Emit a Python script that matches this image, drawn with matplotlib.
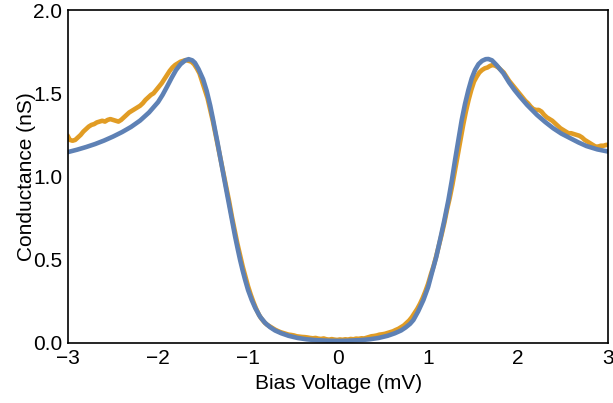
import matplotlib
matplotlib.use('Agg')
import matplotlib.pyplot as plt

# fitted curve (blue)
fit_v = [-3.0, -2.9, -2.8, -2.7, -2.6, -2.5, -2.4, -2.3, -2.2, -2.1, -2.0, -1.95,
         -1.9, -1.85, -1.8, -1.75, -1.7, -1.66, -1.62, -1.59, -1.55, -1.5, -1.46,
         -1.42, -1.39, -1.367, -1.34, -1.311, -1.28, -1.256, -1.228, -1.2, -1.172,
         -1.144, -1.115, -1.089, -1.06, -1.033, -1.0, -0.959, -0.92, -0.867, -0.81,
         -0.756, -0.7, -0.63, -0.55, -0.45, -0.35, -0.25, -0.1, 0.0,
         0.1, 0.25, 0.35, 0.45, 0.55, 0.63, 0.7, 0.75, 0.8, 0.837, 0.89, 0.948, 1.0,
         1.041, 1.09, 1.133, 1.18, 1.226, 1.265, 1.3, 1.34, 1.374, 1.41, 1.448, 1.485,
         1.522, 1.56, 1.6, 1.64, 1.67, 1.71, 1.76, 1.837, 1.9, 1.96, 2.02, 2.1, 2.21,
         2.3, 2.39, 2.48, 2.58, 2.67, 2.76, 2.88, 3.0]
fit_g = [1.147, 1.161, 1.177, 1.195, 1.216, 1.240, 1.267, 1.298, 1.336, 1.385, 1.447, 1.49,
         1.54, 1.592, 1.64, 1.675, 1.697, 1.705, 1.698, 1.683, 1.645, 1.585, 1.515,
         1.425, 1.345, 1.28, 1.205, 1.12, 1.03, 0.96, 0.88, 0.80, 0.72,
         0.64, 0.565, 0.50, 0.435, 0.38, 0.318, 0.258, 0.21, 0.158, 0.12,
         0.095, 0.075, 0.058, 0.043, 0.030, 0.022, 0.017, 0.013, 0.012,
         0.013, 0.017, 0.022, 0.030, 0.043, 0.058, 0.075, 0.093, 0.115, 0.138, 0.19, 0.258, 0.335,
         0.418, 0.515, 0.619, 0.735, 0.859, 0.98, 1.10, 1.23, 1.34, 1.435, 1.52, 1.59,
         1.64, 1.675, 1.695, 1.705, 1.706, 1.698, 1.67, 1.62, 1.565, 1.52, 1.48, 1.43, 1.37,
         1.328, 1.29, 1.258, 1.23, 1.205, 1.183, 1.163, 1.15]

# measured data (orange)
meas_v = [-3.00, -2.98, -2.95, -2.92, -2.89, -2.86, -2.83, -2.80, -2.77, -2.74, -2.71,
          -2.68, -2.65, -2.62, -2.59, -2.56, -2.53, -2.50, -2.47, -2.44, -2.41, -2.38,
          -2.35, -2.32, -2.29, -2.26, -2.23, -2.20, -2.17, -2.14, -2.11, -2.08, -2.05,
          -2.02, -1.99, -1.96, -1.93, -1.90, -1.87, -1.84, -1.81, -1.78, -1.75, -1.72,
          -1.69, -1.66, -1.63, -1.60, -1.57, -1.54, -1.51, -1.48, -1.45, -1.42, -1.39,
          -1.36, -1.33, -1.30, -1.27, -1.24, -1.21, -1.18, -1.15, -1.12, -1.09, -1.06,
          -1.03, -1.00, -0.97, -0.94, -0.91, -0.88, -0.85, -0.82, -0.79, -0.76, -0.73,
          -0.70, -0.67, -0.64, -0.61, -0.58, -0.55, -0.52, -0.49, -0.46, -0.43, -0.40,
          -0.37, -0.34, -0.31, -0.28, -0.25, -0.22, -0.19, -0.16, -0.13, -0.10, -0.07,
          -0.04, -0.01, 0.02, 0.05, 0.08, 0.11, 0.14, 0.17, 0.20, 0.23, 0.26, 0.29,
          0.31, 0.34, 0.37, 0.40, 0.43, 0.46, 0.49, 0.52, 0.55, 0.58, 0.61, 0.64, 0.67,
          0.70, 0.73, 0.76, 0.79, 0.82, 0.85, 0.88, 0.91, 0.94, 0.97, 1.00, 1.03, 1.06,
          1.09, 1.12, 1.15, 1.18, 1.21, 1.24, 1.27, 1.30, 1.33, 1.36, 1.39, 1.42, 1.45,
          1.48, 1.51, 1.54, 1.57, 1.60, 1.63, 1.66, 1.69, 1.72, 1.75, 1.78, 1.81, 1.84,
          1.87, 1.90, 1.93, 1.96, 1.99, 2.02, 2.05, 2.08, 2.11, 2.14, 2.17, 2.20, 2.23,
          2.26, 2.29, 2.32, 2.35, 2.38, 2.41, 2.44, 2.47, 2.50, 2.53, 2.56, 2.59, 2.62,
          2.65, 2.68, 2.71, 2.74, 2.77, 2.80, 2.83, 2.86, 2.89, 2.92, 2.95, 2.98, 3.00]
meas_g = [1.24, 1.22, 1.215, 1.22, 1.235, 1.25, 1.27, 1.285, 1.30, 1.31, 1.315,
          1.325, 1.33, 1.335, 1.33, 1.34, 1.345, 1.34, 1.335, 1.33, 1.34, 1.355,
          1.37, 1.385, 1.395, 1.405, 1.415, 1.425, 1.44, 1.46, 1.475, 1.49, 1.50,
          1.52, 1.54, 1.56, 1.585, 1.61, 1.635, 1.655, 1.67, 1.68, 1.69, 1.695,
          1.70, 1.695, 1.69, 1.675, 1.65, 1.62, 1.57, 1.52, 1.47, 1.40, 1.33,
          1.25, 1.17, 1.09, 1.01, 0.93, 0.85, 0.76, 0.68, 0.60, 0.53, 0.46,
          0.40, 0.34, 0.29, 0.245, 0.205, 0.17, 0.145, 0.125, 0.11, 0.10, 0.09,
          0.08, 0.072, 0.065, 0.06, 0.055, 0.05, 0.048, 0.045, 0.04, 0.038, 0.036,
          0.035, 0.033, 0.03, 0.028, 0.03, 0.026, 0.024, 0.027, 0.022, 0.02, 0.023,
          0.02, 0.018, 0.021, 0.019, 0.022, 0.02, 0.024, 0.022, 0.026, 0.025, 0.028, 0.027,
          0.03, 0.035, 0.04, 0.042, 0.045, 0.05, 0.052, 0.055, 0.06, 0.065, 0.07, 0.078, 0.085,
          0.095, 0.105, 0.12, 0.135, 0.155, 0.18, 0.205, 0.235, 0.27, 0.31, 0.355, 0.41, 0.46,
          0.52, 0.585, 0.65, 0.72, 0.80, 0.87, 0.95, 1.04, 1.13, 1.22, 1.31, 1.39, 1.46,
          1.52, 1.57, 1.60, 1.625, 1.64, 1.65, 1.655, 1.665, 1.67, 1.665, 1.655, 1.64, 1.625,
          1.60, 1.575, 1.555, 1.535, 1.515, 1.495, 1.475, 1.455, 1.44, 1.42, 1.405, 1.40, 1.40,
          1.39, 1.37, 1.355, 1.345, 1.335, 1.32, 1.305, 1.29, 1.28, 1.27, 1.26, 1.26, 1.255,
          1.25, 1.245, 1.235, 1.22, 1.21, 1.20, 1.19, 1.18, 1.18, 1.185, 1.185, 1.19, 1.19]

xticks = [-3, -2, -1, 0, 1, 2, 3]
yticks = [0.0, 0.5, 1.0, 1.5, 2.0]

plt.rcParams['font.family'] = ['Liberation Sans', 'DejaVu Sans']

fig = plt.figure(figsize=(6.13, 4.03), dpi=100)
ax = fig.add_axes([0.111, 0.149, 0.881, 0.826])

ax.plot(meas_v, meas_g, color='#E19C24', linewidth=3.3, solid_joinstyle='round')
ax.plot(fit_v, fit_g, color='#5E81B5', linewidth=3.3, solid_joinstyle='round')

ax.set_xlim(-3, 3)
ax.set_ylim(0, 2.0)
ax.set_xticks(xticks)
ax.set_xticklabels(['\u22123', '\u22122', '\u22121', '0', '1', '2', '3'])
ax.set_yticks(yticks)
ax.set_yticklabels(['0.0', '0.5', '1.0', '1.5', '2.0'])
ax.tick_params(length=0, labelsize=15, pad=4, colors='black')
for s in ax.spines.values():
    s.set_linewidth(1.2)
    s.set_color('black')

ax.set_xlabel('Bias Voltage (mV)', fontsize=15, labelpad=5)
ax.set_ylabel('Conductance (nS)', fontsize=15, labelpad=-2)

fig.savefig('out.png', dpi=100)
